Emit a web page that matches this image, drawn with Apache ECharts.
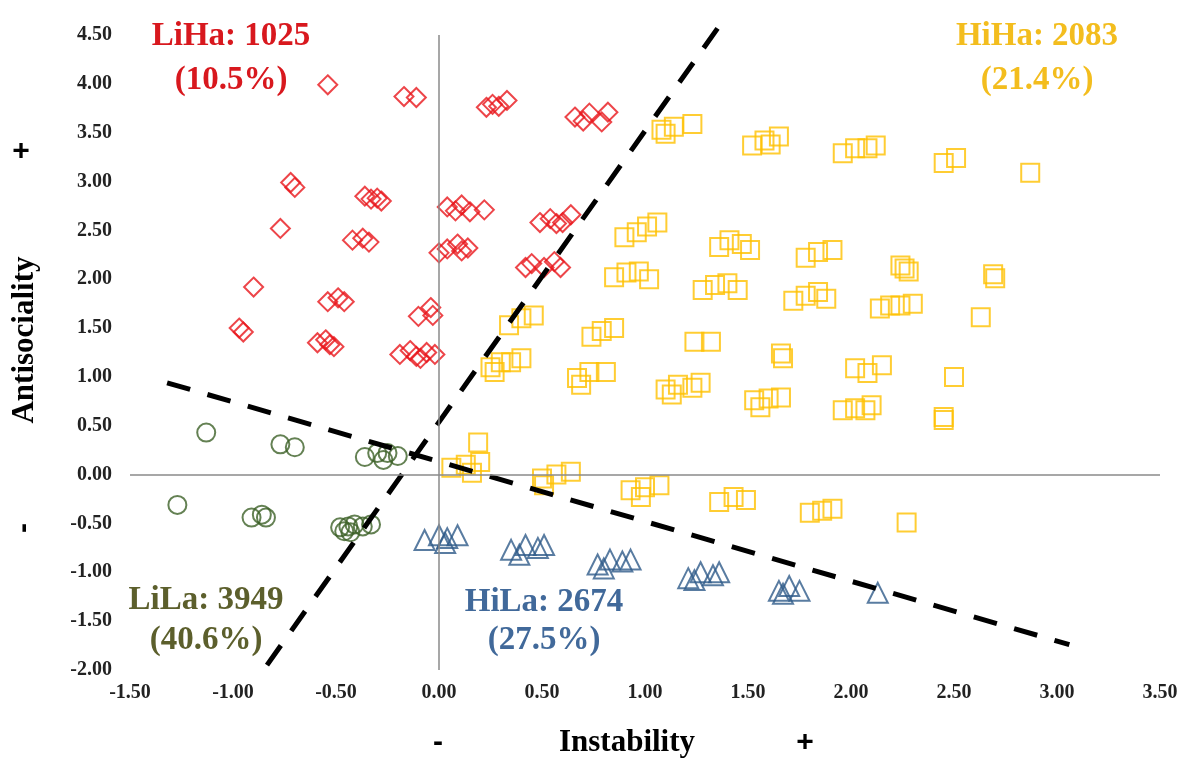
<!DOCTYPE html>
<html>
<head>
<meta charset="utf-8">
<script src="https://cdn.jsdelivr.net/npm/echarts@6/dist/echarts.min.js"></script>
<style>
  html, body { margin: 0; padding: 0; background: #fff; }
  #main { width: 1190px; height: 767px; }
</style>
</head>
<body>
<div id="main"></div>
<script>
// Instability (x) / Antisociality (y) groups
const liHa = [
  [-0.54, 3.99], [-0.17, 3.87], [-0.11, 3.86],
  [0.23, 3.76], [0.26, 3.79], [0.29, 3.77], [0.33, 3.83],
  [0.66, 3.66], [0.70, 3.62], [0.73, 3.70], [0.79, 3.61], [0.82, 3.71],
  [-0.72, 2.99], [-0.70, 2.94],
  [-0.36, 2.85], [-0.33, 2.82], [-0.30, 2.83], [-0.28, 2.80],
  [0.04, 2.74], [0.08, 2.70], [0.11, 2.76], [0.15, 2.69], [0.22, 2.71],
  [0.49, 2.58], [0.54, 2.62], [0.57, 2.57], [0.60, 2.58], [0.64, 2.66],
  [-0.77, 2.52],
  [-0.42, 2.40], [-0.37, 2.42], [-0.34, 2.38],
  [0.00, 2.27], [0.04, 2.31], [0.09, 2.36], [0.11, 2.29], [0.14, 2.32],
  [0.42, 2.12], [0.45, 2.16], [0.51, 2.12], [0.56, 2.18], [0.59, 2.12],
  [-0.90, 1.92],
  [-0.54, 1.77], [-0.49, 1.81], [-0.46, 1.77],
  [-0.10, 1.62], [-0.04, 1.71], [-0.03, 1.63],
  [-0.97, 1.50], [-0.95, 1.46],
  [-0.59, 1.35], [-0.55, 1.38], [-0.53, 1.33], [-0.51, 1.31],
  [-0.19, 1.23], [-0.14, 1.27], [-0.11, 1.21], [-0.09, 1.19], [-0.06, 1.25], [-0.02, 1.23]
];
const hiHa = [
  [1.08, 3.53], [1.10, 3.49], [1.14, 3.56], [1.23, 3.59],
  [1.52, 3.37], [1.58, 3.42], [1.61, 3.38], [1.65, 3.46],
  [1.96, 3.29], [2.02, 3.34], [2.08, 3.34], [2.12, 3.37],
  [2.45, 3.19], [2.51, 3.24],
  [2.87, 3.09],
  [0.90, 2.43], [0.96, 2.48], [1.01, 2.54], [1.06, 2.58],
  [1.36, 2.33], [1.41, 2.40], [1.47, 2.36], [1.51, 2.30],
  [1.78, 2.22], [1.84, 2.28], [1.91, 2.30],
  [2.24, 2.14], [2.26, 2.11], [2.28, 2.08],
  [2.69, 2.05], [2.70, 2.01],
  [0.85, 2.02], [0.91, 2.07], [0.97, 2.08], [1.02, 2.00],
  [1.28, 1.89], [1.34, 1.94], [1.40, 1.96], [1.45, 1.89],
  [1.72, 1.78], [1.78, 1.83], [1.84, 1.87], [1.88, 1.80],
  [2.14, 1.70], [2.19, 1.73], [2.24, 1.73], [2.30, 1.75],
  [2.63, 1.61],
  [0.34, 1.53], [0.40, 1.60], [0.46, 1.63],
  [0.74, 1.41], [0.79, 1.47], [0.85, 1.50],
  [1.24, 1.36], [1.32, 1.36],
  [1.66, 1.24], [1.67, 1.19],
  [2.02, 1.09], [2.08, 1.04], [2.15, 1.12],
  [2.50, 1.00],
  [0.25, 1.10], [0.27, 1.05], [0.30, 1.15], [0.35, 1.15], [0.40, 1.19],
  [0.67, 0.99], [0.69, 0.92], [0.73, 1.05], [0.81, 1.05],
  [1.10, 0.87], [1.13, 0.82], [1.16, 0.92], [1.23, 0.89], [1.27, 0.94],
  [1.53, 0.76], [1.56, 0.69], [1.60, 0.78], [1.66, 0.79],
  [1.96, 0.66], [2.02, 0.68], [2.07, 0.66], [2.10, 0.71],
  [2.45, 0.56], [2.45, 0.59],
  [0.19, 0.33],
  [0.06, 0.07], [0.13, 0.10], [0.16, 0.02], [0.20, 0.13],
  [0.50, -0.04], [0.51, -0.11], [0.57, 0.00], [0.64, 0.03],
  [0.93, -0.16], [0.98, -0.23], [1.00, -0.13], [1.07, -0.11],
  [1.36, -0.28], [1.43, -0.23], [1.49, -0.26],
  [1.80, -0.39], [1.86, -0.37], [1.91, -0.35],
  [2.27, -0.49]
];
const liLa = [
  [-1.13, 0.43], [-0.77, 0.31], [-0.70, 0.28],
  [-0.36, 0.18], [-0.30, 0.22], [-0.27, 0.15], [-0.25, 0.22], [-0.20, 0.19],
  [-1.27, -0.31], [-0.91, -0.44], [-0.86, -0.41], [-0.84, -0.44],
  [-0.48, -0.54], [-0.46, -0.58], [-0.44, -0.53], [-0.43, -0.59], [-0.41, -0.51], [-0.37, -0.53], [-0.33, -0.51]
];
const hiLa = [
  [-0.07, -0.67], [0.00, -0.62], [0.03, -0.70], [0.04, -0.65], [0.09, -0.62],
  [0.35, -0.77], [0.39, -0.82], [0.42, -0.72], [0.48, -0.75], [0.51, -0.72],
  [0.77, -0.92], [0.80, -0.96], [0.83, -0.87], [0.89, -0.89], [0.93, -0.87],
  [1.21, -1.06], [1.24, -1.08], [1.27, -1.00], [1.33, -1.03], [1.36, -1.00],
  [1.65, -1.19], [1.67, -1.22], [1.70, -1.14], [1.75, -1.19],
  [2.13, -1.21]
];
// the two dashed split lines
const splitSteep = [[-0.835, -1.95], [1.40, 4.71]];
const splitShallow = [[-1.32, 0.94], [3.06, -1.74]];

const serif = '"Liberation Serif", "Times New Roman", serif';
const sans = '"Liberation Sans", Arial, sans-serif';

function scatter(name, data, symbol, size, color) {
  return {
    name: name,
    type: 'scatter',
    data: data,
    symbol: symbol,
    symbolSize: size,
    itemStyle: {color: 'rgba(0,0,0,0)', borderColor: color, borderWidth: 2},
    z: 3
  }
}

function splitLine(data) {
  return {
    type: 'line',
    data: data,
    clip: false,
    showSymbol: false,
    silent: true,
    lineStyle: {color: '#000', width: 5, type: [24, 18]},
    z: 4
  }
}

function label(x, y, text, font, fill, extra) {
  return Object.assign({
    type: 'text', x: x, y: y,
    style: {text: text, font: font, fill: fill, align: 'center', verticalAlign: 'middle', lineHeight: 44}
  }, extra || {})
}

const chart = echarts.init(document.getElementById('main'));
chart.setOption({
  animation: false,
  grid: {left: 130, right: 30, top: 35, bottom: 97},
  xAxis: {
    type: 'value', min: -1.5, max: 3.5, interval: 0.5,
    axisLine: {show: false}, axisTick: {show: false}, splitLine: {show: false},
    axisLabel: {
      margin: 13, color: '#222', fontFamily: serif, fontWeight: 'bold', fontSize: 20,
      formatter: v => v.toFixed(2)
    }
  },
  yAxis: {
    type: 'value', min: -2, max: 4.5, interval: 0.5,
    axisLine: {show: false}, axisTick: {show: false}, splitLine: {show: false},
    axisLabel: {
      margin: 18, color: '#222', fontFamily: serif, fontWeight: 'bold', fontSize: 20,
      formatter: v => v.toFixed(2)
    }
  },
  series: [
    {
      type: 'scatter', data: [], silent: true,
      markLine: {
        silent: true, symbol: 'none', label: {show: false},
        lineStyle: {color: '#8a8a8a', width: 1.5, type: 'solid'},
        data: [{xAxis: 0}, {yAxis: 0}]
      }
    },
    scatter('LiHa', liHa, 'diamond', 19, '#e8161c'),
    scatter('HiHa', hiHa, 'rect', 18, '#ffc000'),
    scatter('LiLa', liLa, 'circle', 18, '#3d6228'),
    scatter('HiLa', hiLa, 'triangle', 20, '#2f5b89'),
    splitLine(splitSteep),
    splitLine(splitShallow)
  ],
  graphic: [
    label(231, 58, 'LiHa: 1025\n(10.5%)', 'bold 33px ' + serif, '#d8181e'),
    label(1037, 58, 'HiHa: 2083\n(21.4%)', 'bold 33px ' + serif, '#f3bd1e'),
    label(206, 620, 'LiLa: 3949\n(40.6%)', 'bold 33px ' + serif, '#5c5f2c', {style: {text: 'LiLa: 3949\n(40.6%)', font: 'bold 33px ' + serif, fill: '#5c5f2c', align: 'center', verticalAlign: 'middle', lineHeight: 40}}),
    label(544, 621, 'HiLa: 2674\n(27.5%)', 'bold 33px ' + serif, '#41699a', {style: {text: 'HiLa: 2674\n(27.5%)', font: 'bold 33px ' + serif, fill: '#41699a', align: 'center', verticalAlign: 'middle', lineHeight: 38}}),
    label(627, 743, 'Instability', 'bold 31px ' + serif, '#000'),
    label(438, 743, '-', 'bold 30px ' + sans, '#000'),
    label(805, 743, '+', 'bold 30px ' + sans, '#000'),
    label(25, 340, 'Antisociality', 'bold 31px ' + serif, '#000', {rotation: Math.PI / 2}),
    label(21, 152, '+', 'bold 30px ' + sans, '#000'),
    label(24, 528, '-', 'bold 30px ' + sans, '#000', {rotation: Math.PI / 2})
  ]
});
</script>
</body>
</html>
